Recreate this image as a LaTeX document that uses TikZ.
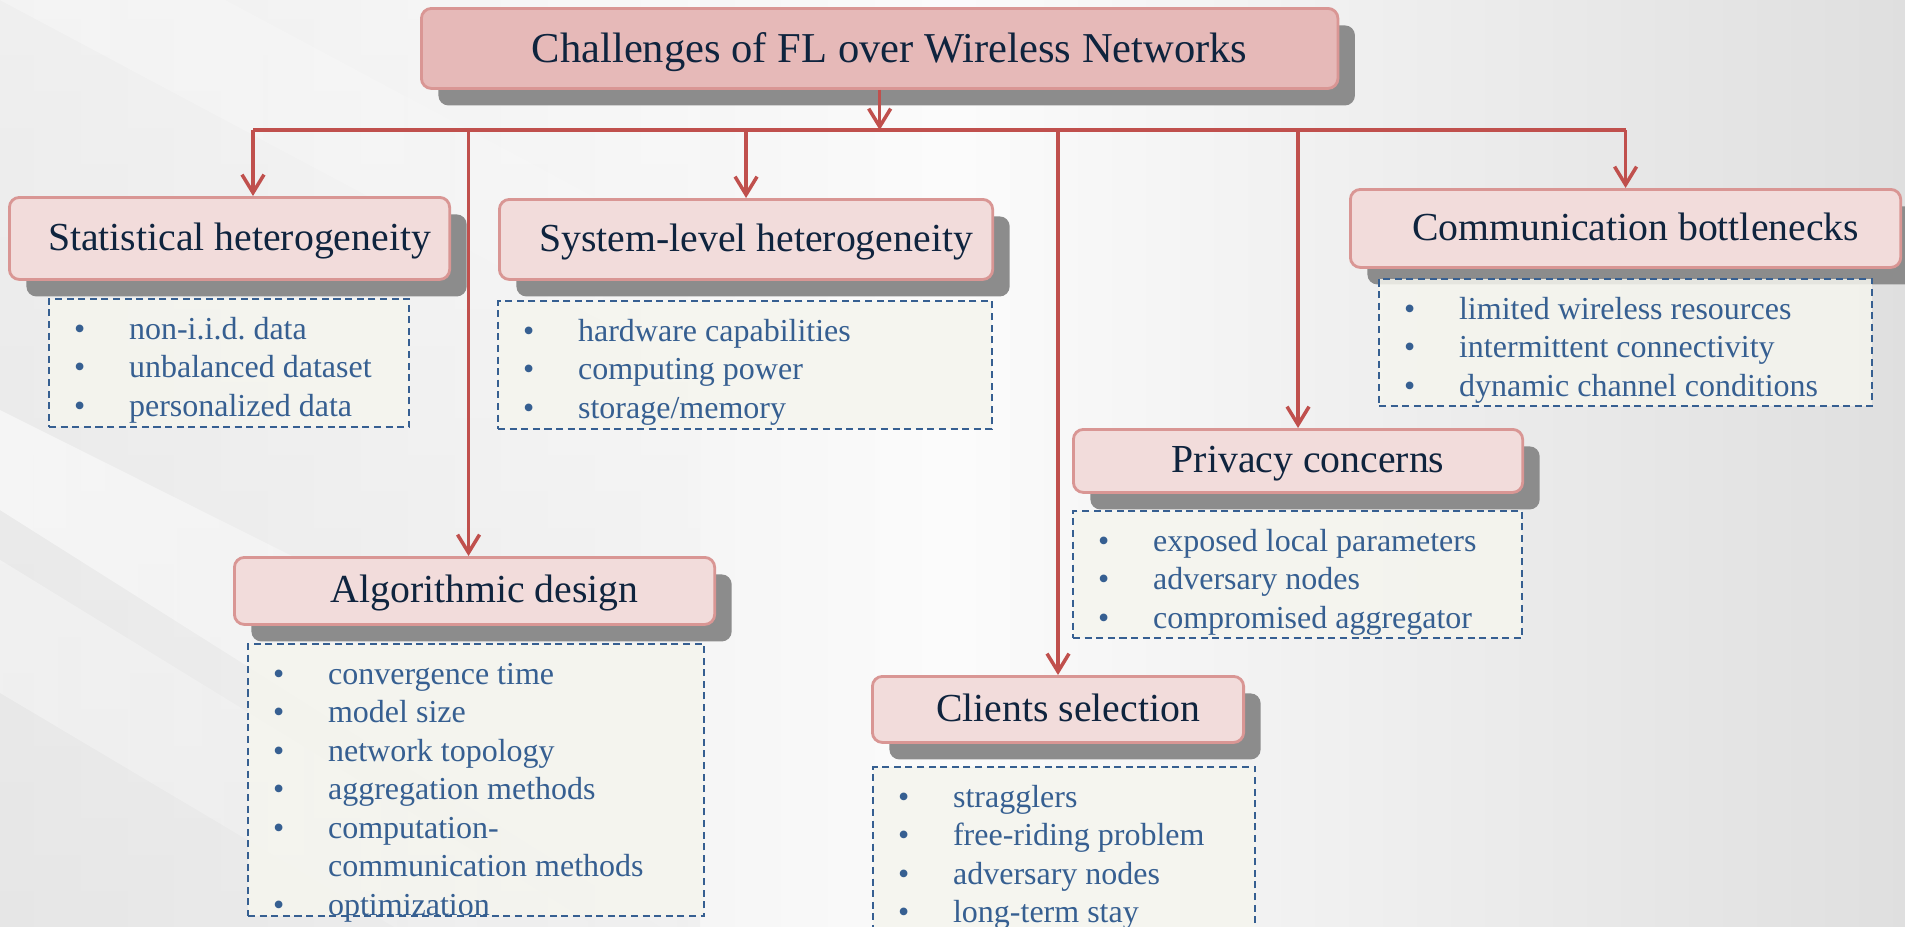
\documentclass[tikz,border=0pt]{standalone}
\usepackage{fontspec}
\setmainfont{Liberation Serif}
\usetikzlibrary{arrows.meta}
\usetikzlibrary{shadows}
\usetikzlibrary{fadings}

\definecolor{hdrfill}{RGB}{242,220,219}
\definecolor{topfill}{RGB}{230,185,184}
\definecolor{hdrline}{RGB}{217,150,148}
\definecolor{wirered}{RGB}{192,80,77}
\definecolor{navy}{RGB}{15,36,62}
\definecolor{itemblue}{RGB}{54,95,145}
\definecolor{listfill}{RGB}{245,245,238}

\newcommand{\bul}{\makebox[0.55cm][l]{\textbullet}}
\newcommand{\itemlist}[3]{\begin{minipage}[c][#2][t]{#1}\raggedright\rule{0pt}{0.4cm}#3\end{minipage}}

\tikzset{
  hdr/.style={draw=hdrline, line width=0.8pt, fill=hdrfill, rounded corners=0.1cm,
    text=navy, anchor=north west, inner sep=0pt, text height=0.24cm, text depth=0cm,
    font=\fontsize{11.3}{13}\selectfont, execute at begin node=\hspace*{0.2cm},
    drop shadow={shadow xshift=0.17cm, shadow yshift=-0.17cm, fill=black!45, opacity=1}},
  lst/.style={draw=itemblue, line width=0.6pt, dash pattern=on 2pt off 1.3pt,
    fill=listfill, fill opacity=0.85, text opacity=1, text=itemblue, anchor=north west,
    inner xsep=0.25cm, inner ysep=0pt, font=\fontsize{9.1}{10.95}\selectfont},
  link/.style={draw=wirered, line width=1pt, -{Straight Barb[length=1.8mm,width=2.2mm]}},
  band/.style={fill=white, opacity=#1, path fading=east}
}

\begin{document}
\begin{tikzpicture}[x=0.01cm, y=-0.01cm]
\clip (0,0) rectangle (1905,927);
% backdrop
\shade[left color=gray!19, right color=gray!25, middle color=gray!3] (0,0) rectangle (1905,927);
\shade[top color=white, bottom color=gray!20, opacity=0.35] (0,0) rectangle (700,927);
\fill[band=0.55] (0,410) -- (760,790) -- (760,990) -- (0,510) -- cycle;
\fill[band=0.35] (0,560) -- (700,990) -- (500,990) -- (0,693) -- cycle;
\fill[band=0.3] (0,0) -- (900,480) -- (900,360) -- (0,-120) -- cycle;

% headings
\node[hdr, fill=topfill, minimum width=9.16cm, minimum height=0.8cm, text height=0.28cm,
  font=\fontsize{12.1}{14}\selectfont] (top) at (420,7) {Challenges of FL over Wireless Networks};
\node[hdr, minimum width=4.4cm, minimum height=0.82cm] (stat) at (8,196) {Statistical heterogeneity};
\node[hdr, minimum width=4.93cm, minimum height=0.8cm] (sys) at (498,198) {System-level heterogeneity};
\node[hdr, minimum width=5.5cm, minimum height=0.78cm] (comm) at (1349,188) {Communication bottlenecks};
\node[hdr, minimum width=4.49cm, minimum height=0.63cm] (priv) at (1072,428) {Privacy concerns};
\node[hdr, minimum width=4.8cm, minimum height=0.67cm] (alg) at (233,556) {Algorithmic design};
\node[hdr, minimum width=3.71cm, minimum height=0.66cm] (cli) at (871,675) {Clients selection};

% lists
\node[lst] (statlist) at (48,298) {\itemlist{3.1cm}{1.28cm}{\bul non-i.i.d.\ data\\
  \bul unbalanced dataset\\ \bul personalized data}};
\node[lst] (syslist) at (497,300) {\itemlist{4.44cm}{1.28cm}{\bul hardware capabilities\\
  \bul computing power\\ \bul storage/memory}};
\node[lst] (commlist) at (1378,278) {\itemlist{4.43cm}{1.27cm}{\bul limited wireless resources\\
  \bul intermittent connectivity\\ \bul dynamic channel conditions}};
\node[lst] (privlist) at (1072,510) {\itemlist{3.99cm}{1.27cm}{\bul exposed local parameters\\
  \bul adversary nodes\\ \bul compromised aggregator}};
\node[lst] (alglist) at (247,643) {\itemlist{4.06cm}{2.72cm}{\bul convergence time\\
  \bul model size\\ \bul network topology\\ \bul aggregation methods\\
  \bul computation-\\ \hspace*{0.55cm}communication methods\\ \bul optimization}};
\node[lst] (clilist) at (872,766) {\itemlist{3.32cm}{1.8cm}{\bul stragglers\\
  \bul free-riding problem\\ \bul adversary nodes\\ \bul long-term stay}};

% connectors
\coordinate (busL) at (253,130);
\coordinate (algtop) at ([xshift=-0.06cm]alg.north);
\draw[link] (top.south) -- (top.south |- busL);
\draw[wirered, line width=1pt] (busL) -- (comm.north |- busL);
\draw[link] (busL) -- (busL |- stat.north);
\draw[link] (algtop |- busL) -- (algtop);
\foreach \n in {sys, cli, priv, comm}
\draw[link] (\n.north |- busL) -- (\n.north);

\end{tikzpicture}
\end{document}
